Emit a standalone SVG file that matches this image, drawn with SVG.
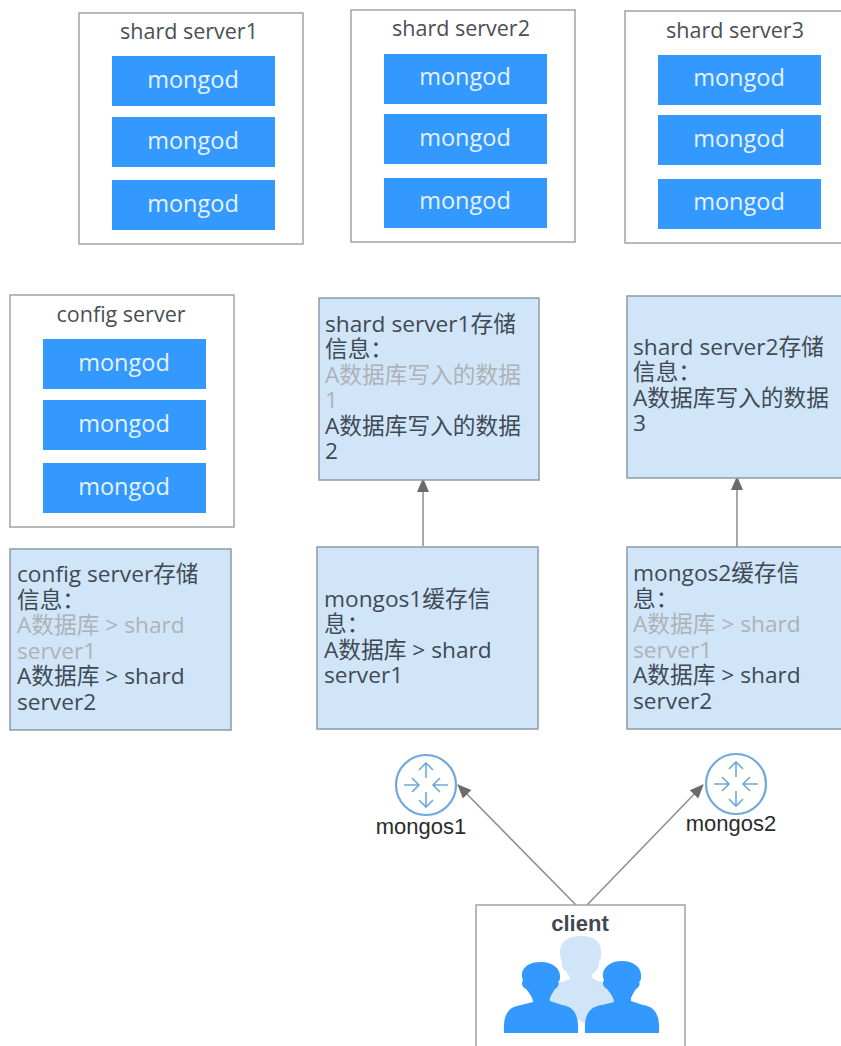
<svg xmlns="http://www.w3.org/2000/svg" width="841" height="1046" viewBox="0 0 841 1046">
<defs>
<style>
text{font-family:"Open Sans","Noto Sans CJK SC",sans-serif;fill:#3f4a55}
.box{fill:#fff;stroke:#a3a3a3;stroke-width:1.5}
.m{fill:#3399ff}
.mt{fill:#e6f2ff;font-size:23.5px;text-anchor:middle}
.title{font-size:21.5px;text-anchor:middle;fill:#4a4f55}
.info{fill:#d1e5f9;stroke:#8c9aa6;stroke-width:1.5}
.t{font-size:22.7px}
.g{fill:#aeb2b6}
.lbl{font-size:22px;text-anchor:middle;fill:#2b2b2b;font-family:"Liberation Sans",sans-serif}
.conn{fill:none;stroke:#8c8c8c;stroke-width:1.5}
.ring{fill:#fff;stroke:#6fa8dc;stroke-width:2.2}
.ar{fill:none;stroke:#6fa8dc;stroke-width:1.6}
</style>
<marker id="arr" markerUnits="userSpaceOnUse" markerWidth="14" markerHeight="14" refX="13" refY="7" orient="auto"><path d="M0 1 L14 7 L0 13 Z" fill="#6b6b6b"/></marker>
<g id="router">
<circle r="30" class="ring"/>
<path class="ar" d="M0 -7V-22M-7 -15L0 -22L7 -15M0 7V22M-7 15L0 22L7 15M-22 0H-7M-14 -7L-7 0L-14 7M7 0H22M14 -7L7 0L14 7"/>
</g>
</defs>
<g id="connectors">
<path class="conn" marker-end="url(#arr)" d="M423 546V479"/>
<path class="conn" marker-end="url(#arr)" d="M737 547V477"/>
<path class="conn" marker-end="url(#arr)" d="M576 905L458 785"/>
<path class="conn" marker-end="url(#arr)" d="M587 905L703 785"/>
</g>
<g id="shard1">
<rect class="box" x="79" y="13" width="224" height="231"/>
<text class="title" x="189" y="39">shard server1</text>
<rect class="m" x="112" y="56" width="163" height="50"/><text class="mt" x="193" y="88">mongod</text>
<rect class="m" x="112" y="117" width="163" height="50"/><text class="mt" x="193" y="149">mongod</text>
<rect class="m" x="112" y="180" width="163" height="50"/><text class="mt" x="193" y="212">mongod</text>
</g>
<g id="shard2">
<rect class="box" x="351" y="10" width="224" height="232"/>
<text class="title" x="461" y="36">shard server2</text>
<rect class="m" x="384" y="54" width="163" height="50"/><text class="mt" x="465" y="85">mongod</text>
<rect class="m" x="384" y="114" width="163" height="50"/><text class="mt" x="465" y="146">mongod</text>
<rect class="m" x="384" y="178" width="163" height="50"/><text class="mt" x="465" y="209">mongod</text>
</g>
<g id="shard3">
<rect class="box" x="625" y="11" width="224" height="232"/>
<text class="title" x="735" y="38">shard server3</text>
<rect class="m" x="658" y="55" width="163" height="50"/><text class="mt" x="739" y="86">mongod</text>
<rect class="m" x="658" y="115" width="163" height="50"/><text class="mt" x="739" y="147">mongod</text>
<rect class="m" x="658" y="179" width="163" height="50"/><text class="mt" x="739" y="210">mongod</text>
</g>
<g id="config">
<rect class="box" x="10" y="295" width="224" height="232"/>
<text class="title" x="121" y="322">config server</text>
<rect class="m" x="43" y="339" width="163" height="50"/><text class="mt" x="124" y="371">mongod</text>
<rect class="m" x="43" y="400" width="163" height="50"/><text class="mt" x="124" y="432">mongod</text>
<rect class="m" x="43" y="463" width="163" height="50"/><text class="mt" x="124" y="495">mongod</text>
</g>
<g id="info-shard1">
<rect class="info" x="319" y="298" width="220" height="182"/>
<text class="t"><tspan x="325" y="332">shard server1存储</tspan><tspan x="325" y="357">信息：</tspan><tspan class="g" x="325" y="383">A数据库写入的数据</tspan><tspan class="g" x="325" y="408">1</tspan><tspan x="325" y="434">A数据库写入的数据</tspan><tspan x="325" y="459">2</tspan></text>
</g>
<g id="info-shard2">
<rect class="info" x="627" y="296" width="220" height="182"/>
<text class="t"><tspan x="633" y="355">shard server2存储</tspan><tspan x="633" y="380">信息：</tspan><tspan x="633" y="406">A数据库写入的数据</tspan><tspan x="633" y="431">3</tspan></text>
</g>
<g id="info-config">
<rect class="info" x="10" y="549" width="221" height="181"/>
<text class="t"><tspan x="17" y="582">config server存储</tspan><tspan x="17" y="608">信息：</tspan><tspan class="g" x="17" y="633">A数据库 &gt; shard</tspan><tspan class="g" x="17" y="659">server1</tspan><tspan x="17" y="684">A数据库 &gt; shard</tspan><tspan x="17" y="710">server2</tspan></text>
</g>
<g id="info-mongos1">
<rect class="info" x="317" y="547" width="221" height="182"/>
<text class="t"><tspan x="324" y="607">mongos1缓存信</tspan><tspan x="324" y="632">息：</tspan><tspan x="324" y="658">A数据库 &gt; shard</tspan><tspan x="324" y="683">server1</tspan></text>
</g>
<g id="info-mongos2">
<rect class="info" x="627" y="547" width="221" height="182"/>
<text class="t"><tspan x="633" y="581">mongos2缓存信</tspan><tspan x="633" y="607">息：</tspan><tspan class="g" x="633" y="632">A数据库 &gt; shard</tspan><tspan class="g" x="633" y="658">server1</tspan><tspan x="633" y="683">A数据库 &gt; shard</tspan><tspan x="633" y="709">server2</tspan></text>
</g>
<g id="mongos1">
<use href="#router" x="426" y="785"/>
<text class="lbl" x="421" y="834">mongos1</text>
</g>
<g id="mongos2">
<use href="#router" x="736" y="784"/>
<text class="lbl" x="731" y="831">mongos2</text>
</g>
<g id="client">
<rect class="box" x="476" y="905" width="209" height="150"/>
<text x="580" y="931" text-anchor="middle" style="font-size:22px;font-weight:700;font-family:'Liberation Sans',sans-serif">client</text>
<path fill="#d1e5f9" d="M581 936C568 936 560 942 560 952C560 957 561 960 562 962C561 966 563 970 566 971C568 975 570 977 570 979L562 982C555 983 548 983 546 986L540 996L600 1033L628 996L614 984L598 981C593 979 591 977 592 974C597 971 600 966 599 961C602 958 601 955 601 951C601 942 594 936 581 936Z"/>
<path id="user-l" fill="#3399ff" d="M504 1033C503 1014 508 1007 521 1005L533 1002C533 998 530 994 526 989C522 987 521 983 523 980C521 976 522 972 523 970C526 965 531 962 541 962C552 962 560 968 560 976C560 979 560 981 558 982C560 985 557 988 555 989C552 994 549 998 550 1001L562 1005C574 1007 579 1014 578 1033Z"/>
<path id="user-r" fill="#3399ff" d="M585 1033C584 1014 589 1007 602 1005L614 1002C614 998 611 994 607 989C603 987 602 983 604 980C602 976 603 972 604 970C607 965 612 961 622 961C633 961 641 967 641 975C641 979 641 981 639 982C641 985 638 988 636 989C633 994 630 998 631 1001L643 1005C655 1007 660 1014 659 1033Z"/>
</g>
</svg>
